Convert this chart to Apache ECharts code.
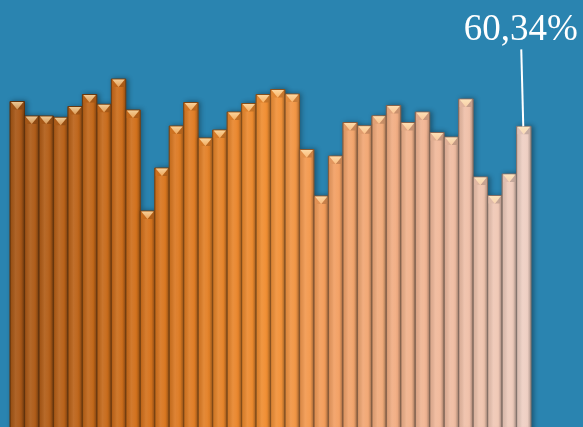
<!DOCTYPE html>
<html>
<head>
<meta charset="utf-8">
<script src="https://cdn.jsdelivr.net/npm/echarts@6/dist/echarts.min.js"></script>
<style>
  html, body { margin: 0; padding: 0; background: #2a84b0; }
  #chart { width: 583px; height: 427px; }
</style>
</head>
<body>
<div id="chart"></div>
<script>
// values (percent)
const categories = Array.from({ length: 36 }, (_, i) => 'P' + (i + 1))
const values = [
  65.33, 62.42, 62.42, 62.16, 64.32, 66.73, 64.77, 69.84, 63.62, 43.35,
  51.98, 60.41, 65.13, 58.00, 59.61, 63.22, 64.93, 66.73, 67.74, 66.83,
  55.69, 46.36, 54.39, 61.11, 60.45, 62.46, 64.53, 61.11, 63.22, 59.11,
  58.20, 65.83, 50.18, 46.46, 50.78, 60.34
]
const labelIndex = 35

// colour ramp from dark brown-orange to pale peach
const colorStops = [
  [0, [172, 90, 24]],
  [0.25, [216, 116, 30]],
  [0.5, [245, 146, 52]],
  [0.62, [246, 162, 100]],
  [0.8, [244, 184, 150]],
  [1, [242, 210, 198]]
]

function rampColor(t) {
  for (let k = 1; k < colorStops.length; k++) {
    if (t <= colorStops[k][0]) {
      const a = colorStops[k - 1]
      const b = colorStops[k]
      const f = (t - a[0]) / (b[0] - a[0])
      return a[1].map((c, j) => Math.round(c + (b[1][j] - c) * f))
    }
  }
  return colorStops[colorStops.length - 1][1]
}

function shade(rgb, k) {
  // k < 0 darkens, k > 0 lightens
  const c = rgb.map(v => k < 0 ? v * (1 + k) : v + (255 - v) * k)
  return 'rgb(' + c.map(v => Math.round(v)).join(',') + ')'
}

function mix(rgb, to, k) {
  return 'rgb(' + rgb.map((v, j) => Math.round(v + (to[j] - v) * k)).join(',') + ')'
}

function formatPct(v) {
  return v.toFixed(2).replace('.', ',') + '%'
}

const chart = echarts.init(document.getElementById('chart'))

const option = {
  backgroundColor: '#2a84b0',
  animation: false,
  grid: { left: 10, right: 52, top: 0, bottom: 0 },
  xAxis: {
    type: 'category',
    data: categories,
    show: false
  },
  yAxis: {
    type: 'value',
    min: 0,
    max: 85.7,
    show: false
  },
  series: [{
    type: 'custom',
    data: values.map((v, i) => [i, v]),
    encode: { x: 0, y: 1 },
    renderItem: function(params, api) {
      const i = params.dataIndex
      const top = api.coord([i, api.value(1)])
      const base = api.coord([i, 0])
      const w = api.size([1, 0])[0]
      const x0 = top[0] - w / 2
      const x1 = top[0] + w / 2
      const y = top[1]
      const capH = 8
      const rgb = rampColor(i / (values.length - 1))
      const children = [
        {
          type: 'rect',
          shape: { x: x0, y: y, width: w, height: base[1] - y + 5 },
          style: {
            fill: new echarts.graphic.LinearGradient(0, 0, 1, 0, [
              { offset: 0, color: shade(rgb, -0.35) },
              { offset: 0.12, color: shade(rgb, -0.05) },
              { offset: 0.4, color: shade(rgb, 0.08) },
              { offset: 0.75, color: shade(rgb, -0.02) },
              { offset: 1, color: shade(rgb, -0.3) }
            ]),
            stroke: shade(rgb, -0.45),
            lineWidth: 1,
            shadowBlur: 5,
            shadowOffsetX: 2,
            shadowOffsetY: 0,
            shadowColor: 'rgba(0,0,0,0.35)'
          }
        },
        {
          type: 'polygon',
          shape: { points: [[x0 + 1, y + 0.5], [top[0], y + capH], [x0 + 1, y + capH]] },
          style: { fill: shade(rgb, -0.08) }
        },
        {
          type: 'polygon',
          shape: { points: [[x1 - 1, y + 0.5], [top[0], y + capH], [x1 - 1, y + capH]] },
          style: { fill: shade(rgb, -0.18) }
        },
        {
          type: 'polygon',
          shape: { points: [[x0 + 1, y + 0.5], [x1 - 1, y + 0.5], [top[0], y + capH]] },
          style: {
            fill: new echarts.graphic.LinearGradient(0, 0, 0, 1, [
              { offset: 0, color: mix(rgb, [255, 236, 190], 0.75) },
              { offset: 1, color: mix(rgb, [255, 220, 160], 0.45) }
            ])
          }
        }
      ]
      if (i === labelIndex) {
        children.push({
          type: 'line',
          shape: { x1: top[0] - 2.5, y1: y - 77, x2: top[0] - 0.5, y2: y },
          style: { stroke: '#ffffff', lineWidth: 2 }
        })
        children.push({
          type: 'text',
          style: {
            text: formatPct(api.value(1)),
            x: top[0] - 3,
            y: y - 115,
            fill: '#ffffff',
            font: '37px "Liberation Serif"',
            align: 'center',
            verticalAlign: 'top'
          }
        })
      }
      return { type: 'group', children: children }
    }
  }]
}

chart.setOption(option)
</script>
</body>
</html>
